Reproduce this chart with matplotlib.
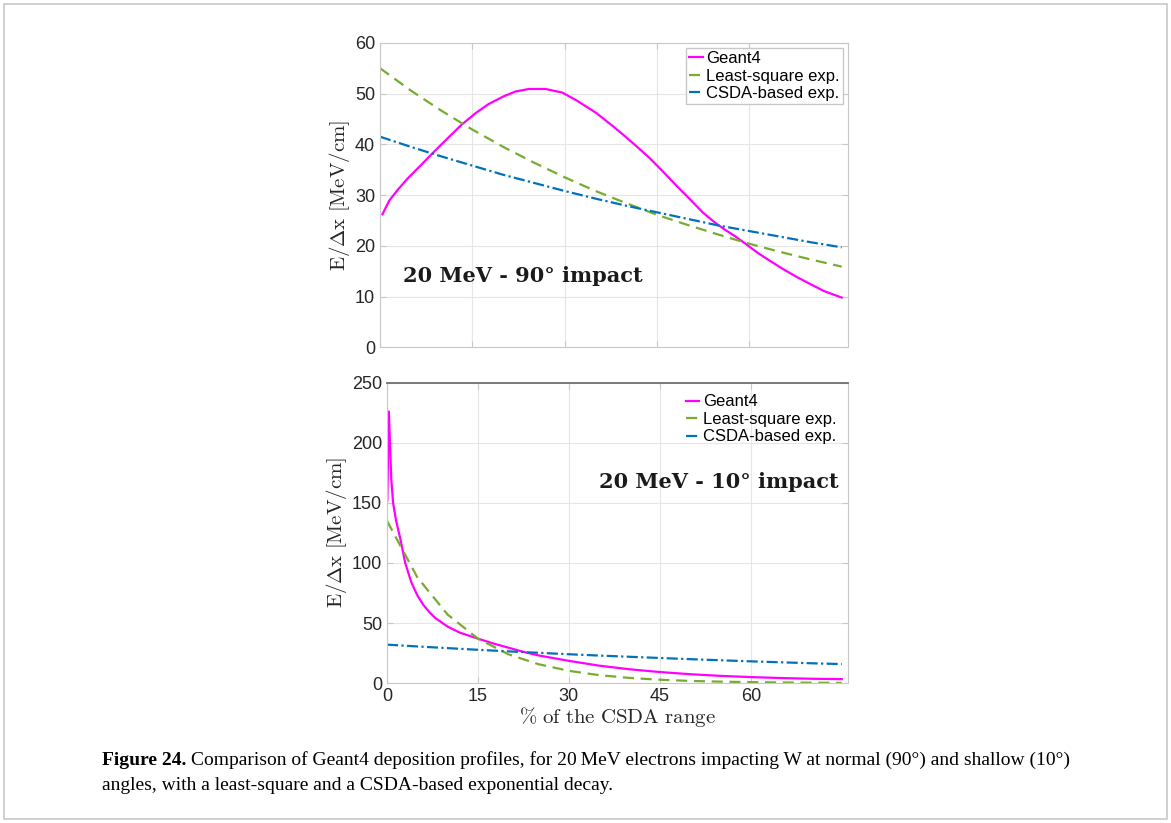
import numpy as np
import matplotlib
matplotlib.use("Agg")
import matplotlib.pyplot as plt
from matplotlib.patches import Rectangle

plt.rcParams['font.family'] = ['Liberation Sans', 'DejaVu Sans']
plt.rcParams['mathtext.fontset'] = 'cm'

# ---- 20 MeV, 90 deg impact ----
g90_x = [0.4, 1.5, 3.0, 4.6, 6.5, 8.5, 11.0, 13.3, 15.5, 17.6, 20.0, 22.0, 24.2,
         26.9, 29.6, 32.0, 35.1, 37.5, 39.4, 41.5, 43.8, 46.0, 48.2, 50.5, 52.5,
         54.5, 56.0, 57.8, 59.6, 61.5, 63.4, 65.5, 67.8, 70.0, 72.1, 75.0]
g90_y = [26.2, 28.9, 31.2, 33.4, 35.7, 38.2, 41.2, 43.9, 46.1, 47.9, 49.4, 50.4,
         50.9, 50.9, 50.2, 48.6, 46.2, 43.9, 42.0, 39.8, 37.3, 34.6, 31.8, 29.0,
         26.5, 24.5, 23.2, 21.8, 20.2, 18.5, 17.0, 15.4, 13.8, 12.4, 11.1, 9.8]

fit_x = [0, 5, 10, 15, 20, 25, 30, 35, 40, 45, 50, 55, 60, 65, 70, 75]
ls90_y = [55.0, 50.6, 46.6, 42.9, 39.5, 36.4, 33.5, 30.8, 28.4, 26.1, 24.1,
          22.2, 20.4, 18.8, 17.3, 15.9]
csda90_y = [41.5, 39.5, 37.6, 35.8, 34.0, 32.4, 30.8, 29.3, 27.9, 26.6, 25.3,
            24.0, 22.9, 21.8, 20.7, 19.7]

# ---- 20 MeV, 10 deg impact ----
g10_x = [0.05, 0.3, 0.7, 1.0, 1.5, 2.2, 3, 4, 5, 6, 7, 8, 10, 12, 15, 17.5, 20,
         22.5, 25, 30, 35, 40, 45, 50, 55, 60, 65, 70, 75]
g10_y = [152, 226, 170, 150, 135, 120, 100, 84, 73, 65, 59, 54, 47, 42, 37,
         33, 29.5, 26, 23, 18.5, 14.5, 11.5, 9.2, 7.4, 6.0, 5.0, 4.2, 3.6, 3.3]
ls10_y = [135, 88, 57, 37, 24, 15.7, 10.2, 6.6, 4.3, 2.8, 1.8, 1.2, 0.8, 0.5,
          0.3, 0.2]
csda10_y = [32.0, 30.5, 29.1, 27.7, 26.4, 25.2, 24.0, 22.9, 21.9, 20.9, 19.9,
            19.0, 18.1, 17.3, 16.5, 15.8]

labels = ['Geant4', 'Least-square exp.', 'CSDA-based exp.']
c_g4 = '#ff00ff'
c_ls = '#77ac30'
c_cs = '#0072bd'

fig = plt.figure(figsize=(11.71, 8.23), dpi=100)
fig.patches.append(Rectangle((0.003, 0.005), 0.994, 0.99, transform=fig.transFigure,
                             fill=False, edgecolor='#c8c8c8', lw=1.2))

ax1 = fig.add_axes([0.3245, 0.578, 0.3995, 0.370])
ax2 = fig.add_axes([0.3305, 0.170, 0.3935, 0.365])

for ax in (ax1, ax2):
    ax.grid(True, color='#e6e6e6', lw=0.8)
    ax.set_axisbelow(True)
    for s in ax.spines.values():
        s.set_color('#c8c8c8')
    ax.tick_params(direction='in', length=4, color='#c8c8c8', labelsize=13,
                   labelcolor='#262626', top=True, right=True)
    ax.set_xlim(0, 76)
    ax.set_xticks([0, 15, 30, 45, 60])
    ax.set_ylabel(r'$\mathrm{E/\Delta x\ [MeV/cm]}$', fontsize=15, color='#262626',
                  labelpad=2)

ann_font = dict(fontsize=15, fontweight='bold', family='DejaVu Serif', color='#1a1a1a',
                va='center')

ax1.plot(g90_x, g90_y, color=c_g4, lw=1.6, label=labels[0])
ax1.plot(fit_x, ls90_y, color=c_ls, lw=1.6, ls=(0, (5, 3)), label=labels[1])
ax1.plot(fit_x, csda90_y, color=c_cs, lw=1.6, ls=(0, (5, 1.5, 1, 1.5)), label=labels[2])
ax1.set_ylim(0, 60)
ax1.set_yticks(range(0, 61, 10))
ax1.tick_params(labelbottom=False)
ax1.text(3.8, 14, '20 MeV - 90\u00b0 impact', **ann_font)
ax1.legend(loc='upper right', fontsize=12, handlelength=0.8, handletextpad=0.2,
           borderpad=0.2, labelspacing=0.15, fancybox=False, framealpha=1,
           edgecolor='#c8c8c8', borderaxespad=0.3)

ax2.plot(g10_x, g10_y, color=c_g4, lw=1.6, label=labels[0])
ax2.plot(fit_x, ls10_y, color=c_ls, lw=1.6, ls=(0, (5, 3)), label=labels[1])
ax2.plot(fit_x, csda10_y, color=c_cs, lw=1.6, ls=(0, (5, 1.5, 1, 1.5)), label=labels[2])
ax2.set_ylim(0, 250)
ax2.set_yticks(range(0, 251, 50))
ax2.spines['top'].set_color('#707070')
ax2.spines['top'].set_linewidth(1.3)
ax2.set_xlabel(r'$\mathrm{\%\ of\ the\ CSDA\ range}$', fontsize=15, color='#262626',
               labelpad=0)
ax2.text(74.5, 167, '20 MeV - 10\u00b0 impact', ha='right', **ann_font)
ax2.legend(loc='upper right', fontsize=12, handlelength=0.8, handletextpad=0.2,
           borderpad=0.2, labelspacing=0.15, frameon=False, borderaxespad=0.5)

# caption: bold lead-in followed by regular text
cap_x, cap_y1, cap_y2 = 0.087, 0.071, 0.040
cap_font = dict(fontsize=14, va='baseline', family=['Liberation Serif', 'DejaVu Serif'])
lead = fig.text(cap_x, cap_y1, 'Figure 24.', fontweight='bold', **cap_font)
fig.canvas.draw()
bb = lead.get_window_extent().transformed(fig.transFigure.inverted())
fig.text(bb.x1 + 0.004, cap_y1,
         'Comparison of Geant4 deposition profiles, for 20\u2009MeV electrons '
         'impacting W at normal (90\u00b0) and shallow (10\u00b0)', **cap_font)
fig.text(cap_x, cap_y2, 'angles, with a least-square and a CSDA-based exponential decay.',
         **cap_font)

fig.savefig('out.png', dpi=100)
